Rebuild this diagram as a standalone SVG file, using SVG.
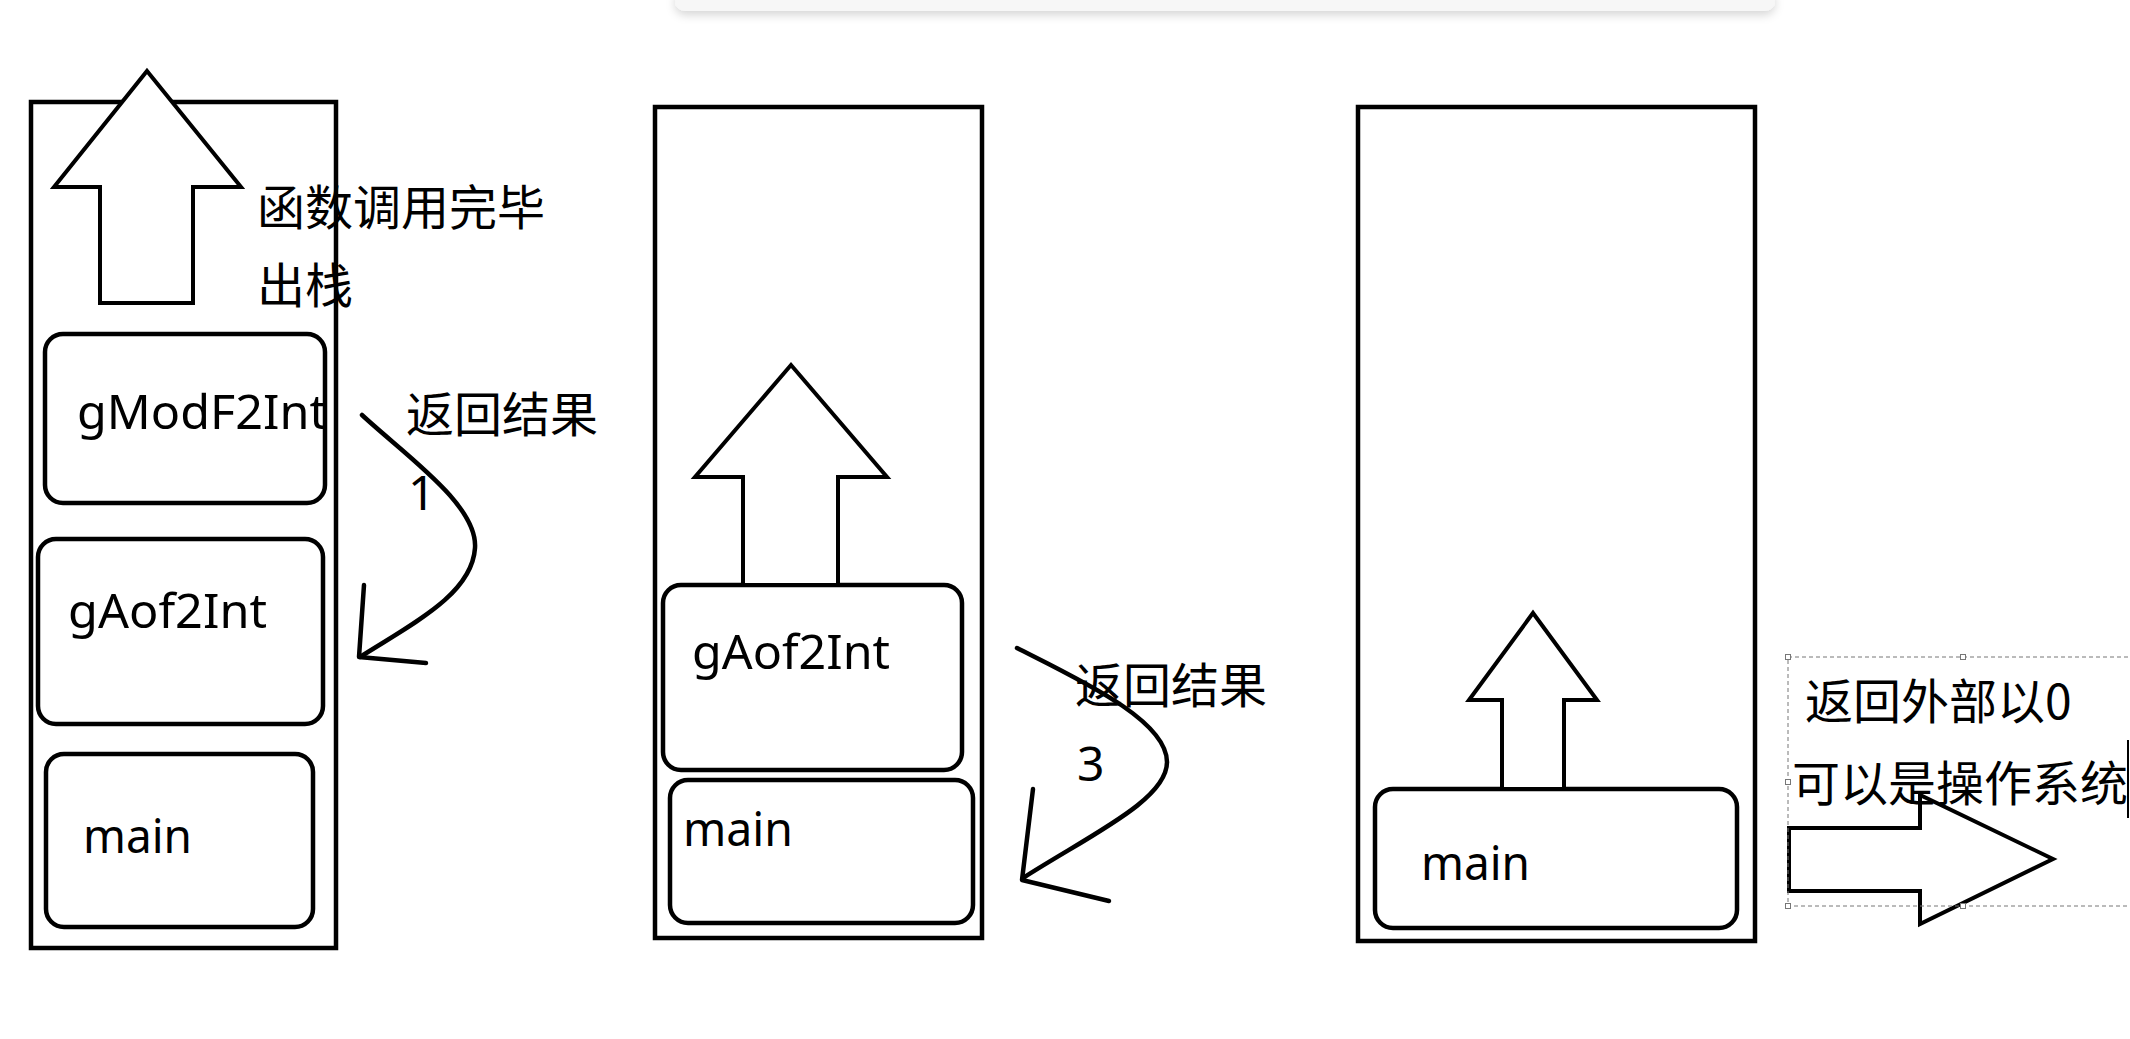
<svg xmlns="http://www.w3.org/2000/svg" width="2130" height="1039" viewBox="0 0 2130 1039">
  <defs>
    <filter id="shadow" x="-5%" y="-100%" width="110%" height="400%">
      <feDropShadow dx="0" dy="4" stdDeviation="5" flood-color="#000" flood-opacity="0.16"/>
    </filter>
  </defs>
  <style>
    .stack { fill: #fff; stroke: #000; stroke-width: 4.5; }
    .frame { fill: #fff; stroke: #000; stroke-width: 4.5; }
    .bigarrow { fill: #fff; stroke: #000; stroke-width: 4; stroke-linejoin: miter; }
    .curve { fill: none; stroke: #000; stroke-width: 4.5; stroke-linecap: round; stroke-linejoin: round; }
    .lbl { font-family: "Noto Sans", "Open Sans", "Noto Sans CJK SC", sans-serif; font-size: 48px; fill: #000; }
    .cjk { font-family: "Noto Sans CJK SC", "Noto Sans", sans-serif; font-size: 48px; fill: #000; }
    .sel { fill: none; stroke: #777; stroke-width: 1; stroke-dasharray: 4 3; }
    .handle { fill: #fff; stroke: #777; stroke-width: 1; }
  </style>

  <rect x="675" y="-12" width="1100" height="23" rx="10" fill="#f7f7f7" filter="url(#shadow)"/>

  <!-- Stack 1 -->
  <g id="stack1">
    <rect class="stack" x="31" y="102" width="305" height="846"/>
  </g>
  <g id="arrow-up-1">
    <path class="bigarrow" d="M147,71 L241,187 L193,187 L193,303 L100,303 L100,187 L54,187 Z"/>
  </g>
  <g id="label-pop">
    <text class="cjk" x="257" y="225">函数调用完毕</text>
    <text class="cjk" x="257" y="303">出栈</text>
  </g>
  <g id="node-gModF2Int">
    <rect class="frame" x="45" y="334" width="280" height="169" rx="18"/>
    <text class="lbl" x="77" y="429" textLength="250" lengthAdjust="spacingAndGlyphs">gModF2Int</text>
  </g>
  <g id="node-gAof2Int-1">
    <rect class="frame" x="38" y="539" width="285" height="185" rx="18"/>
    <text class="lbl" x="68" y="628" textLength="199" lengthAdjust="spacingAndGlyphs">gAof2Int</text>
  </g>
  <g id="node-main-1">
    <rect class="frame" x="46" y="754" width="267" height="173" rx="18"/>
    <text class="lbl" x="83" y="853" textLength="109" lengthAdjust="spacingAndGlyphs">main</text>
  </g>

  <!-- Stack 2 -->
  <g id="stack2">
    <rect class="stack" x="655" y="107" width="327" height="831"/>
  </g>
  <g id="node-gAof2Int-2">
    <rect class="frame" x="663" y="585" width="299" height="185" rx="18"/>
    <text class="lbl" x="692" y="669" textLength="198" lengthAdjust="spacingAndGlyphs">gAof2Int</text>
  </g>
  <g id="arrow-up-2">
    <path class="bigarrow" d="M791,365 L887,477 L838,477 L838,585 L743,585 L743,477 L695,477 Z"/>
  </g>
  <g id="node-main-2">
    <rect class="frame" x="670" y="780" width="303" height="143" rx="18"/>
    <text class="lbl" x="683" y="846" textLength="110" lengthAdjust="spacingAndGlyphs">main</text>
  </g>

  <!-- Stack 3 -->
  <g id="stack3">
    <rect class="stack" x="1358" y="107" width="397" height="834"/>
  </g>
  <g id="node-main-3">
    <rect class="frame" x="1375" y="789" width="362" height="139" rx="18"/>
    <text class="lbl" x="1421" y="880" textLength="109" lengthAdjust="spacingAndGlyphs">main</text>
  </g>
  <g id="arrow-up-3">
    <path class="bigarrow" d="M1533,613 L1597,700 L1564,700 L1564,789 L1502,789 L1502,700 L1469,700 Z"/>
  </g>

  <!-- Connectors -->
  <g id="connectors">
    <path class="curve" d="M362,415 C405,455 478,505 475,548 C472,595 410,625 360,657"/>
    <path class="curve" d="M364,585 L359,657 L426,663"/>
    <path class="curve" d="M1017,648 C1080,680 1167,720 1167,762 C1167,800 1090,835 1023,878"/>
    <path class="curve" d="M1033,789 L1022,880 L1109,901"/>
  </g>
  <g id="label-return-1">
    <text class="cjk" x="406" y="432">返回结果</text>
    <text class="lbl" x="408" y="510">1</text>
  </g>
  <g id="label-return-3">
    <text class="cjk" x="1075" y="703">返回结果</text>
    <text class="lbl" x="1077" y="781">3</text>
  </g>

  <!-- Exit arrow and note -->
  <g id="arrow-right">
    <path class="bigarrow" d="M1789,828 L1920,828 L1920,795 L2053,859 L1920,924 L1920,891 L1789,891 Z"/>
  </g>
  <g id="note-exit">
    <rect class="sel" x="1788" y="657" width="360" height="249"/>
    <rect class="handle" x="1785.5" y="654.5" width="5" height="5"/>
    <rect class="handle" x="1960.5" y="654.5" width="5" height="5"/>
    <rect class="handle" x="1785.5" y="779.5" width="5" height="5"/>
    <rect class="handle" x="1785.5" y="903.5" width="5" height="5"/>
    <rect class="handle" x="1960.5" y="903.5" width="5" height="5"/>
    <text class="cjk" x="1805" y="719">返回外部以0</text>
    <text class="cjk" x="1792" y="801">可以是操作系统</text>
    <line x1="2128" y1="740" x2="2128" y2="818" stroke="#000" stroke-width="2"/>
  </g>
</svg>
